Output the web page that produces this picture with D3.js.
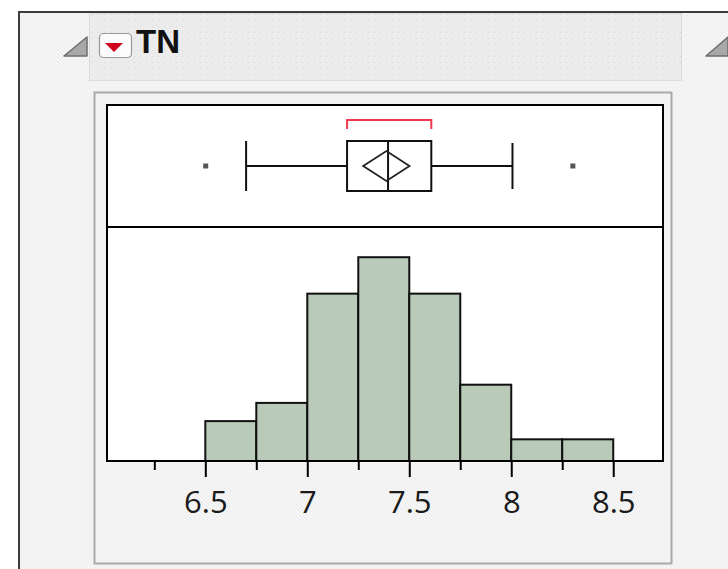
<!DOCTYPE html>
<html>
<head>
<meta charset="utf-8">
<script src="https://cdn.jsdelivr.net/npm/d3@7"></script>
<style>
	body { margin: 0; background: #fff; }
	svg { display: block; }
</style>
</head>
<body>
<svg width="728" height="569"></svg>
<script>
// histogram bins (TN) and counts
var binEdges = [6.5, 6.75, 7, 7.25, 7.5, 7.75, 8, 8.25, 8.5];
var counts = [2, 3, 9, 11, 9, 4, 1, 1];

// outlier box plot: low whisker, Q1, median, Q3, high whisker
var boxStats = [6.70, 7.195, 7.396, 7.608, 8.006];
var outliers = [6.502, 8.302];
// mean diamond: lower CI, mean, upper CI
var meanDiamond = [7.274, 7.388, 7.501];
// shortest half bracket
var shortestHalf = [7.195, 7.608];

var majorTicks = [6.5, 7, 7.5, 8, 8.5];
var tickLabels = ["6.5", "7", "7.5", "8", "8.5"];
var minorTicks = [6.25, 6.75, 7.25, 7.75, 8.25];

var svg = d3.select("svg"), width = +svg.attr("width"), height = +svg.attr("height");

// texture for the window background
var defs = svg.append("defs");
var tex = defs.append("pattern").attr("id", "tex").attr("width", 4).attr("height", 4)
	.attr("patternUnits", "userSpaceOnUse");
tex.append("rect").attr("width", 4).attr("height", 4).attr("fill", "#f6f6f6");
[[0, 0], [2, 1], [1, 2], [3, 3]].forEach(function(p) {
	tex.append("rect").attr("x", p[0]).attr("y", p[1]).attr("width", 1).attr("height", 1).attr("fill", "#e9e9e9");
});
var dots = defs.append("pattern").attr("id", "dots").attr("width", 6).attr("height", 6)
	.attr("patternUnits", "userSpaceOnUse");
dots.append("rect").attr("width", 6).attr("height", 6).attr("fill", "#ececec");
dots.append("rect").attr("x", 2).attr("y", 2).attr("width", 1).attr("height", 1).attr("fill", "#d6d6d6");

// window
svg.append("rect").attr("x", 19).attr("y", 12).attr("width", 720).attr("height", 570)
	.attr("fill", "url(#tex)").attr("stroke", "#3c3c3c").attr("stroke-width", 2);

// header bar
svg.append("rect").attr("x", 89.5).attr("y", 13.5).attr("width", 592).attr("height", 67)
	.attr("fill", "url(#dots)").attr("stroke", "#dcdcdc").attr("stroke-width", 1);

// disclosure triangles
function tri(x0, y0, x1, y1) {
	svg.append("path").attr("d", "M" + x1 + "," + y0 + "L" + x1 + "," + y1 + "L" + x0 + "," + y1 + "Z")
		.attr("fill", "#a8a8a8").attr("stroke", "#6e6e6e").attr("stroke-width", 1.5).attr("stroke-linejoin", "round");
}
tri(64, 37, 87, 56);
tri(706, 37, 728, 56);

// red menu button
svg.append("rect").attr("x", 99.5).attr("y", 33.5).attr("width", 32).attr("height", 24).attr("rx", 4)
	.attr("fill", "#fbfbfb").attr("stroke", "#9a9a9a").attr("stroke-width", 1.2);
svg.append("path").attr("d", "M105,43L123,43L114,52Z").attr("fill", "#d0021b");

svg.append("text").attr("x", 136).attr("y", 53)
	.attr("font-family", "Liberation Sans, Arial, sans-serif").attr("font-weight", "bold")
	.attr("font-size", 33).attr("fill", "#111").text("TN");

// report panel
svg.append("rect").attr("x", 94.5).attr("y", 92.5).attr("width", 577).attr("height", 471)
	.attr("fill", "none").attr("stroke", "#a9a9a9").attr("stroke-width", 2);

// scales (count axis starts a little below zero, as in the original)
var x = d3.scaleLinear().domain([6.018, 8.744]).range([107, 663]);
var y = d3.scaleLinear().domain([-0.19, 12.66]).range([461, 227]);

// plot frame
svg.append("rect").attr("x", 107).attr("y", 105).attr("width", 556).attr("height", 356)
	.attr("fill", "#fff");

// histogram bars
var bins = counts.map(function(c, i) { return { x0: binEdges[i], x1: binEdges[i + 1], n: c }; });
var yBase = y(y.domain()[0]);
svg.append("g").attr("class", "bars")
	.selectAll("rect")
	.data(bins)
	.enter()
	.append("rect")
	.attr("x", function(d) { return x(d.x0); })
	.attr("y", function(d) { return y(d.n); })
	.attr("width", function(d) { return x(d.x1) - x(d.x0); })
	.attr("height", function(d) { return yBase - y(d.n); })
	.attr("fill", "#b9cab9")
	.attr("stroke", "#111")
	.attr("stroke-width", 2);

// frame lines on top
svg.append("rect").attr("x", 107).attr("y", 105).attr("width", 556).attr("height", 356)
	.attr("fill", "none").attr("stroke", "#000").attr("stroke-width", 2);
svg.append("line").attr("x1", 107).attr("x2", 663).attr("y1", 227).attr("y2", 227)
	.attr("stroke", "#000").attr("stroke-width", 2);

// box plot
var by = 166, bTop = 141, bBot = 191;
var box = svg.append("g").attr("class", "box").attr("stroke", "#111").attr("stroke-width", 2).attr("fill", "none");
box.append("line").attr("x1", x(boxStats[0])).attr("x2", x(boxStats[1])).attr("y1", by).attr("y2", by);
box.append("line").attr("x1", x(boxStats[3])).attr("x2", x(boxStats[4])).attr("y1", by).attr("y2", by);
box.append("line").attr("x1", x(boxStats[0])).attr("x2", x(boxStats[0])).attr("y1", bTop).attr("y2", bBot);
box.append("line").attr("x1", x(boxStats[4])).attr("x2", x(boxStats[4])).attr("y1", bTop + 2).attr("y2", bBot - 2);
box.append("rect").attr("x", x(boxStats[1])).attr("y", bTop)
	.attr("width", x(boxStats[3]) - x(boxStats[1])).attr("height", bBot - bTop);
box.append("line").attr("x1", x(boxStats[2])).attr("x2", x(boxStats[2])).attr("y1", bTop).attr("y2", bBot);
box.append("path")
	.attr("d", "M" + x(meanDiamond[0]) + "," + by + "L" + x(meanDiamond[1]) + "," + (by - 15) +
		"L" + x(meanDiamond[2]) + "," + by + "L" + x(meanDiamond[1]) + "," + (by + 15) + "Z")
	.attr("stroke", "#222").attr("stroke-width", 1.8);

// outliers
svg.append("g").selectAll("rect")
	.data(outliers)
	.enter()
	.append("rect")
	.attr("x", function(d) { return x(d) - 2.5; })
	.attr("y", by - 2.5)
	.attr("width", 5).attr("height", 5)
	.attr("fill", "#555");

// shortest half bracket
svg.append("path")
	.attr("d", "M" + x(shortestHalf[0]) + ",129V120H" + x(shortestHalf[1]) + "V129")
	.attr("fill", "none").attr("stroke", "#f0384e").attr("stroke-width", 2);

// axes
var minorAxis = d3.axisBottom(x).tickValues(minorTicks).tickSize(9).tickFormat("");
var majorAxis = d3.axisBottom(x).tickValues(majorTicks).tickSize(16)
	.tickFormat(function(d, i) { return tickLabels[i]; });

var gMinor = svg.append("g").attr("transform", "translate(0,461)").call(minorAxis);
var gMajor = svg.append("g").attr("transform", "translate(0,461)").call(majorAxis);
[gMinor, gMajor].forEach(function(g) {
	g.select(".domain").remove();
	g.selectAll(".tick line").attr("stroke", "#000").attr("stroke-width", 2);
});
gMajor.selectAll(".tick text")
	.attr("y", 52).attr("dy", null)
	.attr("font-family", "Open Sans, Noto Sans, sans-serif")
	.attr("font-size", 31)
	.attr("fill", "#1a1a1a");
</script>
</body>
</html>
